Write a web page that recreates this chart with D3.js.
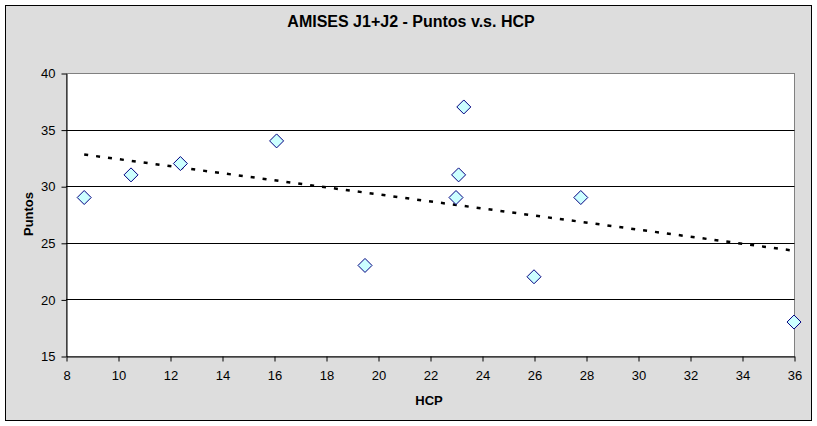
<!DOCTYPE html>
<html><head><meta charset="utf-8">
<script src="https://cdn.jsdelivr.net/npm/d3@7/dist/d3.min.js"></script>
<style>body{margin:0;background:#fff}svg{display:block}text{font-family:"Liberation Sans",Arial,sans-serif}</style>
</head><body><div id="chart"></div>
<script>
const title = "AMISES J1+J2 - Puntos v.s. HCP";
const xLabel = "HCP";
const yLabel = "Puntos";
const hcp    = [8.7, 10.5, 12.4, 16.1, 19.5, 23.0, 23.1, 23.3, 26.0, 27.8, 36.0];
const puntos = [29, 31, 32, 34, 23, 29, 31, 37, 22, 29, 18];
const trendX = [8.7, 36];
const trendY = [32.8, 24.3];
const xTicks = [8, 10, 12, 14, 16, 18, 20, 22, 24, 26, 28, 30, 32, 34, 36];
const yTicks = [15, 20, 25, 30, 35, 40];

const W = 817, H = 426;
const L = 66, R = 794, T = 73, B = 356;
const svg = d3.select("#chart").append("svg").attr("width", W).attr("height", H);
svg.append("rect").attr("x", 5.5).attr("y", 5.5).attr("width", 806).attr("height", 415)
  .attr("fill", "#DDDDDD").attr("stroke", "#000").attr("stroke-width", 1);

const x = d3.scaleLinear().domain([8, 36]).range([L, R]);
const y = d3.scaleLinear().domain([15, 40]).range([B, T]);

svg.append("rect").attr("x", L + 0.5).attr("y", T + 0.5).attr("width", R - L).attr("height", B - T)
  .attr("fill", "#fff").attr("stroke", "#808080").attr("stroke-width", 1);

// gridlines
svg.append("g").selectAll("line").data(yTicks.filter(v => v > 15 && v < 40)).join("line")
  .attr("x1", L).attr("x2", R + 0.5)
  .attr("y1", d => Math.round(y(d)) + 0.5).attr("y2", d => Math.round(y(d)) + 0.5)
  .attr("stroke", "#000").attr("stroke-width", 1);

// axes
const yAxis = svg.append("g").attr("transform", `translate(${L + 0.5},0.5)`)
  .call(d3.axisLeft(y).tickValues(yTicks).tickSizeInner(5).tickSizeOuter(0).tickPadding(6));
const xAxis = svg.append("g").attr("transform", `translate(0.5,${B + 0.5})`)
  .call(d3.axisBottom(x).tickValues(xTicks).tickSizeInner(5).tickSizeOuter(0).tickPadding(9));
[yAxis, xAxis].forEach(g => {
  g.select(".domain").attr("stroke", "#000");
  g.selectAll(".tick line").attr("stroke", "#000");
  g.selectAll("text").attr("font-family", "'Liberation Sans',Arial,sans-serif")
    .attr("font-size", 13).attr("fill", "#000");
});

// trend line
svg.append("line")
  .attr("x1", x(trendX[0])).attr("y1", y(trendY[0]))
  .attr("x2", x(trendX[1])).attr("y2", y(trendY[1]))
  .attr("stroke", "#000").attr("stroke-width", 2.5).attr("stroke-dasharray", "4,8");

// points
const pts = hcp.map((v, i) => [v, puntos[i]]);
svg.append("g").selectAll("path").data(pts).join("path")
  .attr("d", d => {
    const cx = x(d[0]), cy = y(d[1]), r = 7;
    return `M${cx},${cy - r}L${cx + r},${cy}L${cx},${cy + r}L${cx - r},${cy}Z`;
  })
  .attr("fill", "#CCFFFF").attr("stroke", "#000080").attr("stroke-width", 1);

// titles
svg.append("text").attr("x", 411).attr("y", 27).attr("text-anchor", "middle")
  .attr("font-size", 16).attr("font-weight", "bold").text(title);
svg.append("text").attr("x", 429).attr("y", 405).attr("text-anchor", "middle")
  .attr("font-size", 13).attr("font-weight", "bold").text(xLabel);
svg.append("text").attr("transform", "translate(33,214) rotate(-90)").attr("text-anchor", "middle")
  .attr("font-size", 13).attr("font-weight", "bold").text(yLabel);
</script></body></html>
